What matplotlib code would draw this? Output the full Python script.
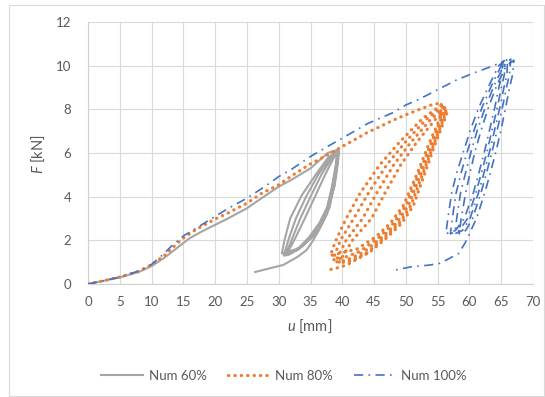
import matplotlib
matplotlib.use("Agg")
import matplotlib.pyplot as plt
from matplotlib.patches import Rectangle

plt.rcParams["font.family"] = ["Lato", "DejaVu Sans"]
plt.rcParams["mathtext.fontset"] = "custom"
plt.rcParams["mathtext.it"] = "Lato:italic"
plt.rcParams["mathtext.rm"] = "Lato"

# ---------------- Num 60% : load path, cycles, final unloading ----------------
g_load = [(0, 0), (2, 0.12), (5, 0.3), (8, 0.55), (10, 0.82), (12, 1.2), (14, 1.65),
          (16, 2.1), (18, 2.42), (20, 2.71), (22, 3.0), (25, 3.47), (27.3, 3.93),
          (30, 4.46), (32, 4.77), (35, 5.3), (37.7, 6.0), (39.3, 6.15)]
g_u1 = [(39.1, 5.5), (38.6, 4.5), (37.9, 3.5), (36.8, 2.8), (35.2, 2.17), (33.2, 1.6), (31.6, 1.42), (30.5, 1.4)]
g_r1 = [(30.9, 2.0), (31.8, 3.0), (33.6, 4.05), (35.8, 5.0), (37.8, 5.8), (39.2, 6.1)]
g_u2 = [(39.0, 5.5), (38.4, 4.5), (37.6, 3.5), (36.4, 2.8), (34.8, 2.15), (32.8, 1.55), (31.5, 1.33), (30.8, 1.3)]
g_r2 = [(31.5, 2.0), (32.7, 3.0), (34.3, 4.0), (36.2, 5.0), (38.0, 5.75), (39.3, 6.1)]
g_u3 = [(39.1, 5.5), (38.5, 4.5), (37.7, 3.5), (36.6, 2.8), (35.0, 2.15), (33.1, 1.6), (31.9, 1.4), (31.1, 1.35)]
g_r3 = [(32.0, 2.0), (33.4, 3.0), (35.0, 4.0), (36.7, 5.0), (38.3, 5.75), (39.4, 6.1)]
g_u4 = [(39.2, 5.5), (38.7, 4.5), (38.0, 3.5), (37.0, 2.9), (35.5, 2.2), (33.6, 1.7), (32.3, 1.55), (31.5, 1.5)]
g_r4 = [(32.6, 2.1), (34.1, 3.0), (35.7, 4.0), (37.3, 5.0), (38.6, 5.75), (39.5, 6.1)]
g_end = [(39.3, 5.5), (38.8, 4.5), (38.3, 4.0), (37.6, 3.2), (36.4, 2.5), (35.3, 1.95), (34.4, 1.56),
         (33.0, 1.25), (30.7, 0.87), (28.6, 0.72), (26.3, 0.55)]

# ---------------- Num 80% ----------------
o_load = [(0, 0), (2, 0.12), (5, 0.32), (8, 0.58), (10, 0.88), (12, 1.3), (14, 1.85),
          (15, 2.1), (17, 2.5), (20, 2.97), (22, 3.25), (25, 3.7), (27.3, 4.15),
          (30, 4.54), (32, 4.95), (35, 5.5), (37.7, 5.92), (40, 6.3), (42, 6.62), (44, 6.95),
          (46, 7.22), (48, 7.5), (50, 7.75), (52, 7.98), (54, 8.2), (55.6, 8.3)]
o_u1 = [(55.4, 7.6), (53.6, 6.4), (51.7, 5.0), (49.6, 3.6), (47.6, 2.8), (45.3, 2.17), (42.3, 1.6), (38.1, 1.3)]
o_r1 = [(39.0, 2.0), (40.6, 3.0), (42.8, 4.16), (45.9, 5.46), (49.1, 6.53), (52.7, 7.6), (55.9, 8.25)]
o_u2 = [(55.6, 7.6), (53.9, 6.4), (52.0, 5.0), (50.0, 3.6), (48.1, 2.8), (45.9, 2.17), (42.8, 1.5), (40.2, 1.2), (38.5, 1.1)]
o_r2 = [(39.7, 2.0), (41.8, 3.0), (44.1, 4.16), (47.0, 5.46), (50.0, 6.53), (53.4, 7.6), (56.2, 8.2)]
o_u3 = [(55.8, 7.6), (54.2, 6.4), (52.3, 5.0), (50.4, 3.6), (48.6, 2.8), (46.4, 2.17), (43.3, 1.45), (40.7, 1.1), (38.9, 1.0)]
o_r3 = [(40.6, 2.0), (43.2, 3.0), (45.4, 4.16), (48.1, 5.46), (50.9, 6.53), (54.1, 7.6), (56.4, 8.1)]
o_u4 = [(56.0, 7.6), (54.4, 6.4), (52.6, 5.0), (50.8, 3.6), (49.0, 2.8), (46.8, 2.17), (43.8, 1.4), (41.2, 1.05), (39.4, 0.95)]
o_r4 = [(41.6, 2.0), (44.6, 3.0), (46.7, 4.16), (49.2, 5.46), (51.8, 6.53), (54.8, 7.6), (56.6, 7.95)]
o_end = [(56.2, 7.6), (54.6, 6.4), (52.9, 5.0), (51.2, 3.6), (49.4, 2.8), (47.2, 2.17),
         (44.4, 1.48), (40.7, 0.87), (39.0, 0.72), (37.8, 0.64)]

# ---------------- Num 100% ----------------
b_load = [(0, 0), (2, 0.12), (5, 0.32), (8, 0.6), (10, 0.9), (12, 1.4), (13, 1.7),
          (15, 2.2), (17, 2.55), (20, 3.1), (22, 3.45), (25, 3.93), (28, 4.5), (30, 4.92),
          (32, 5.25), (35, 5.84), (38, 6.35), (40, 6.68), (44, 7.35), (48, 7.85), (50, 8.2),
          (52, 8.45), (55, 8.9), (58, 9.35), (61, 9.7), (63.8, 10.0), (65.3, 10.2)]
b_u1 = [(65.1, 9.6), (64.7, 9.1), (64.0, 8.1), (63.2, 7.1), (62.4, 6.1), (61.5, 5.1), (60.6, 4.16), (59.2, 3.0), (57.8, 2.45), (56.3, 2.3)]
b_r1 = [(56.6, 3.0), (57.2, 4.16), (58.0, 5.1), (59.1, 6.1), (60.2, 7.1), (61.5, 8.1), (63.1, 9.1), (64.6, 10.0), (65.6, 10.25)]
b_u2 = [(65.5, 9.6), (65.1, 9.1), (64.4, 8.1), (63.6, 7.1), (62.8, 6.1), (61.9, 5.1), (61.0, 4.16), (59.7, 3.0), (58.4, 2.45), (57.0, 2.3)]
b_r2 = [(57.3, 3.0), (57.9, 4.16), (58.7, 5.1), (59.7, 6.1), (60.8, 7.1), (62.0, 8.1), (63.5, 9.1), (65.0, 10.0), (66.0, 10.3)]
b_u3 = [(65.9, 9.6), (65.5, 9.1), (64.8, 8.1), (64.0, 7.1), (63.2, 6.1), (62.3, 5.1), (61.4, 4.16), (60.1, 3.0), (58.9, 2.45), (57.7, 2.3)]
b_r3 = [(58.0, 3.0), (58.6, 4.16), (59.4, 5.1), (60.3, 6.1), (61.3, 7.1), (62.5, 8.1), (63.9, 9.1), (65.4, 10.0), (66.5, 10.3)]
b_u4 = [(66.3, 9.6), (65.9, 9.1), (65.2, 8.1), (64.4, 7.1), (63.6, 6.1), (62.7, 5.1), (61.8, 4.16), (60.5, 3.0), (59.4, 2.45), (58.4, 2.3)]
b_r4 = [(58.7, 3.0), (59.4, 4.16), (60.1, 5.1), (60.9, 6.1), (61.9, 7.1), (63.0, 8.1), (64.3, 9.1), (65.8, 10.0), (67.0, 10.25)]
b_end = [(66.8, 9.6), (66.4, 9.1), (65.7, 8.1), (65.0, 7.1), (64.2, 6.1), (63.3, 5.1), (62.4, 4.16),
         (61.1, 3.0), (60.0, 2.3), (59.3, 1.87), (58.3, 1.4), (56.9, 1.18), (55.4, 0.95),
         (53.8, 0.87), (50.7, 0.78), (48.4, 0.64)]

series_labels = ["Num 60%", "Num 80%", "Num 100%"]


def path(*segments):
    pts = [p for seg in segments for p in seg]
    return [p[0] for p in pts], [p[1] for p in pts]


gray_u, gray_F = path(g_load, g_u1, g_r1, g_u2, g_r2, g_u3, g_r3, g_u4, g_r4, g_end)
orange_u, orange_F = path(o_load, o_u1, o_r1, o_u2, o_r2, o_u3, o_r3, o_u4, o_r4, o_end)
blue_u, blue_F = path(b_load, b_u1, b_r1, b_u2, b_r2, b_u3, b_r3, b_u4, b_r4, b_end)

W, H = 545, 397
fig = plt.figure(figsize=(W / 100, H / 100), dpi=100)
fig.patches.append(Rectangle((9 / W, 1 / H), (544 - 9) / W, (392 - 1) / H,
                             transform=fig.transFigure, fill=False,
                             edgecolor="#d9d9d9", linewidth=0.8))

ax = fig.add_axes([88 / W, 1 - 284 / H, (533 - 88) / W, (284 - 22) / H])
ax.set_xlim(0, 70)
ax.set_ylim(0, 12)
ax.set_xticks(range(0, 71, 5))
ax.set_yticks(range(0, 13, 2))
ax.grid(True, color="#d9d9d9", linewidth=0.8)
ax.set_axisbelow(True)
for side in ("top", "right"):
    ax.spines[side].set_visible(False)
for side in ("left", "bottom"):
    ax.spines[side].set_color("#d0d0d0")
    ax.spines[side].set_linewidth(0.8)
ax.tick_params(axis="both", length=0, colors="#595959", labelsize=9.5)
ax.tick_params(axis="x", pad=9)
ax.tick_params(axis="y", pad=12)

l1, = ax.plot(gray_u, gray_F, color="#a5a5a5", lw=1.5, zorder=3,
              solid_joinstyle="round")
l2, = ax.plot(orange_u, orange_F, color="#ed7d31", lw=2.3, zorder=4,
              linestyle=(0, (0.1, 1.9)), dash_capstyle="round")
l3, = ax.plot(blue_u, blue_F, color="#4472c4", lw=1.2, zorder=5,
              linestyle=(0, (5.5, 3.2, 1.0, 3.2)), dash_capstyle="butt")

fig.text(38 / W, 1 - 154 / H, r"$F$ [kN]", rotation=90, ha="center", va="center",
         fontsize=10.5, color="#595959")
fig.text(310 / W, 1 - 326 / H, r"$u$ [mm]", ha="center", va="center",
         fontsize=10.5, color="#595959")

fig.legend([l1, l2, l3], series_labels, loc="center", bbox_to_anchor=(284 / W, 1 - 376 / H),
           ncol=3, frameon=False, fontsize=9.5, handlelength=3.2, columnspacing=1.6,
           handletextpad=0.4, labelcolor="#595959")

fig.savefig("out.png", dpi=100)
